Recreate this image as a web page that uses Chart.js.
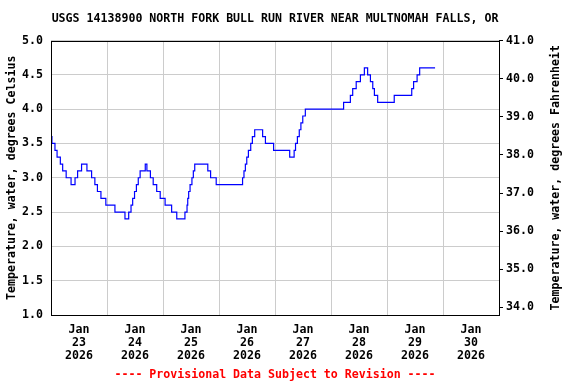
<!DOCTYPE html>
<html>
<head>
<meta charset="utf-8">
<script src="https://cdn.jsdelivr.net/npm/chart.js@4.4.1/dist/chart.umd.min.js"></script>
<style>
  body { margin: 0; background: #fff; }
  canvas { display: block; }
</style>
</head>
<body>
<canvas id="canvas" width="576" height="384"></canvas>
<script>
// hours after Jan 23 2026 00:00; each value holds until the next entry
const hours = [0, 0.4, 1.7, 2.6, 4.0, 5.0, 6.5, 8.6, 10.3, 11.4,
  13.1, 15.4, 17.4, 18.8, 19.9, 21.4, 23.5, 27.4, 31.7, 33.3,
  34.3, 35.0, 35.8, 36.6, 37.4, 38.2, 40.4, 41.1, 42.6, 43.8,
  45.3, 46.8, 48.9, 51.7, 53.9, 57.4, 58.3, 58.6, 59.0, 59.6,
  60.4, 61.0, 61.6, 67.2, 68.4, 70.8, 82.1, 82.7, 83.3, 83.9,
  84.6, 85.6, 86.3, 87.3, 90.7, 91.9, 95.4, 102.3, 104.2, 104.8,
  105.6, 106.4, 107.1, 107.9, 109.0, 125.4, 128.3, 129.3, 130.8, 132.6,
  134.3, 135.7, 136.9, 137.9, 138.6, 140.0, 147.1, 154.6, 155.4, 156.9,
  158.0, 164.6];
const tempC = [3.6, 3.5, 3.4, 3.3, 3.2, 3.1, 3.0, 2.9, 3.0, 3.1,
  3.2, 3.1, 3.0, 2.9, 2.8, 2.7, 2.6, 2.5, 2.4, 2.5,
  2.6, 2.7, 2.8, 2.9, 3.0, 3.1, 3.2, 3.1, 3.0, 2.9,
  2.8, 2.7, 2.6, 2.5, 2.4, 2.5, 2.6, 2.7, 2.8, 2.9,
  3.0, 3.1, 3.2, 3.1, 3.0, 2.9, 3.0, 3.1, 3.2, 3.3,
  3.4, 3.5, 3.6, 3.7, 3.6, 3.5, 3.4, 3.3, 3.4, 3.5,
  3.6, 3.7, 3.8, 3.9, 4.0, 4.1, 4.2, 4.3, 4.4, 4.5,
  4.6, 4.5, 4.4, 4.3, 4.2, 4.1, 4.2, 4.3, 4.4, 4.5,
  4.6, 4.6];

const dayLabels = ['23', '24', '25', '26', '27', '28', '29', '30'];
const monthLabel = 'Jan';
const yearLabel = '2026';
const celsiusTicks = [1.0, 1.5, 2.0, 2.5, 3.0, 3.5, 4.0, 4.5, 5.0];
const fahrenheitTicks = [34, 35, 36, 37, 38, 39, 40, 41];

const titleText = 'USGS 14138900 NORTH FORK BULL RUN RIVER NEAR MULTNOMAH FALLS, OR';
const footText = '---- Provisional Data Subject to Revision ----';
const leftTitle = 'Temperature, water, degrees Celsius';
const rightTitle = 'Temperature, water, degrees Fahrenheit';

const font = { family: "'DejaVu Sans Mono', monospace", size: 11.6, weight: 'bold' };
const gridColor = '#cccccc';

// box round the plot and the right axis title (reads bottom to top)
const extras = {
  id: 'extras',
  afterDatasetsDraw(chart) {
    const { ctx, chartArea: a } = chart;
    ctx.save();
    ctx.strokeStyle = '#000';
    ctx.lineWidth = 1;
    ctx.strokeRect(Math.round(a.left) + 0.5, Math.round(a.top) + 0.5,
      Math.round(a.right - a.left), Math.round(a.bottom - a.top));
    ctx.fillStyle = '#000';
    ctx.font = 'bold 11.6px "DejaVu Sans Mono", monospace';
    ctx.textAlign = 'center';
    ctx.textBaseline = 'middle';
    ctx.translate(556, (a.top + a.bottom) / 2);
    ctx.rotate(-Math.PI / 2);
    ctx.fillText(rightTitle, 0, 0);
    ctx.restore();
  }
};

const ctx = document.getElementById('canvas').getContext('2d');
const chart = new Chart(ctx, {
  type: 'line',
  data: {
    datasets: [{
      data: hours.map((h, i) => ({ x: h, y: tempC[i] })),
      borderColor: '#0000ff',
      borderWidth: 1.2,
      pointRadius: 0,
      stepped: true,
      fill: false
    }]
  },
  options: {
    responsive: false,
    devicePixelRatio: 1,
    animation: false,
    layout: { padding: 0 },
    plugins: {
      legend: { display: false },
      tooltip: { enabled: false },
      title: {
        display: true,
        text: titleText,
        color: '#000',
        font: font,
        fullSize: false,
        padding: { top: 12.5, bottom: 14.1 }
      },
      subtitle: {
        display: true,
        position: 'bottom',
        text: footText,
        color: '#ff0000',
        font: font,
        fullSize: false,
        padding: { top: 4, bottom: 2 }
      }
    },
    scales: {
      x: {
        type: 'linear',
        min: 0,
        max: 192,
        afterBuildTicks: axis => {
          axis.ticks = [];
          for (let v = 0; v <= 192; v += 12) axis.ticks.push({ value: v });
        },
        afterFit: axis => { axis.height = 49.08; },
        border: { display: false },
        grid: {
          color: c => (c.tick && c.tick.value % 24 === 0) ? gridColor : 'rgba(0,0,0,0)',
          drawTicks: false
        },
        ticks: {
          autoSkip: false,
          maxRotation: 0,
          padding: 8.5,
          color: '#000',
          font: Object.assign({}, font, { lineHeight: '13px' }),
          callback: v => v % 24 === 12 ? [monthLabel, dayLabels[(v - 12) / 24], yearLabel] : ''
        }
      },
      y: {
        position: 'left',
        min: 1,
        max: 5,
        afterBuildTicks: axis => { axis.ticks = celsiusTicks.map(v => ({ value: v })); },
        afterFit: axis => { axis.width = 51; },
        border: { display: false },
        grid: { color: gridColor, drawTicks: false },
        ticks: {
          padding: 8,
          color: '#000',
          font: font,
          callback: v => v.toFixed(1)
        },
        title: {
          display: true,
          text: leftTitle,
          color: '#000',
          font: font,
          padding: { top: 5, bottom: 0 }
        }
      },
      yF: {
        position: 'right',
        min: 33.8,
        max: 41,
        afterBuildTicks: axis => { axis.ticks = fahrenheitTicks.map(v => ({ value: v })); },
        afterFit: axis => { axis.width = 77; },
        border: { display: false },
        grid: { drawOnChartArea: false, drawTicks: true, tickLength: 4, tickColor: '#000' },
        ticks: {
          padding: 3,
          color: '#000',
          font: font,
          callback: v => v.toFixed(1)
        }
      }
    }
  },
  plugins: [extras]
});
</script>
</body>
</html>
